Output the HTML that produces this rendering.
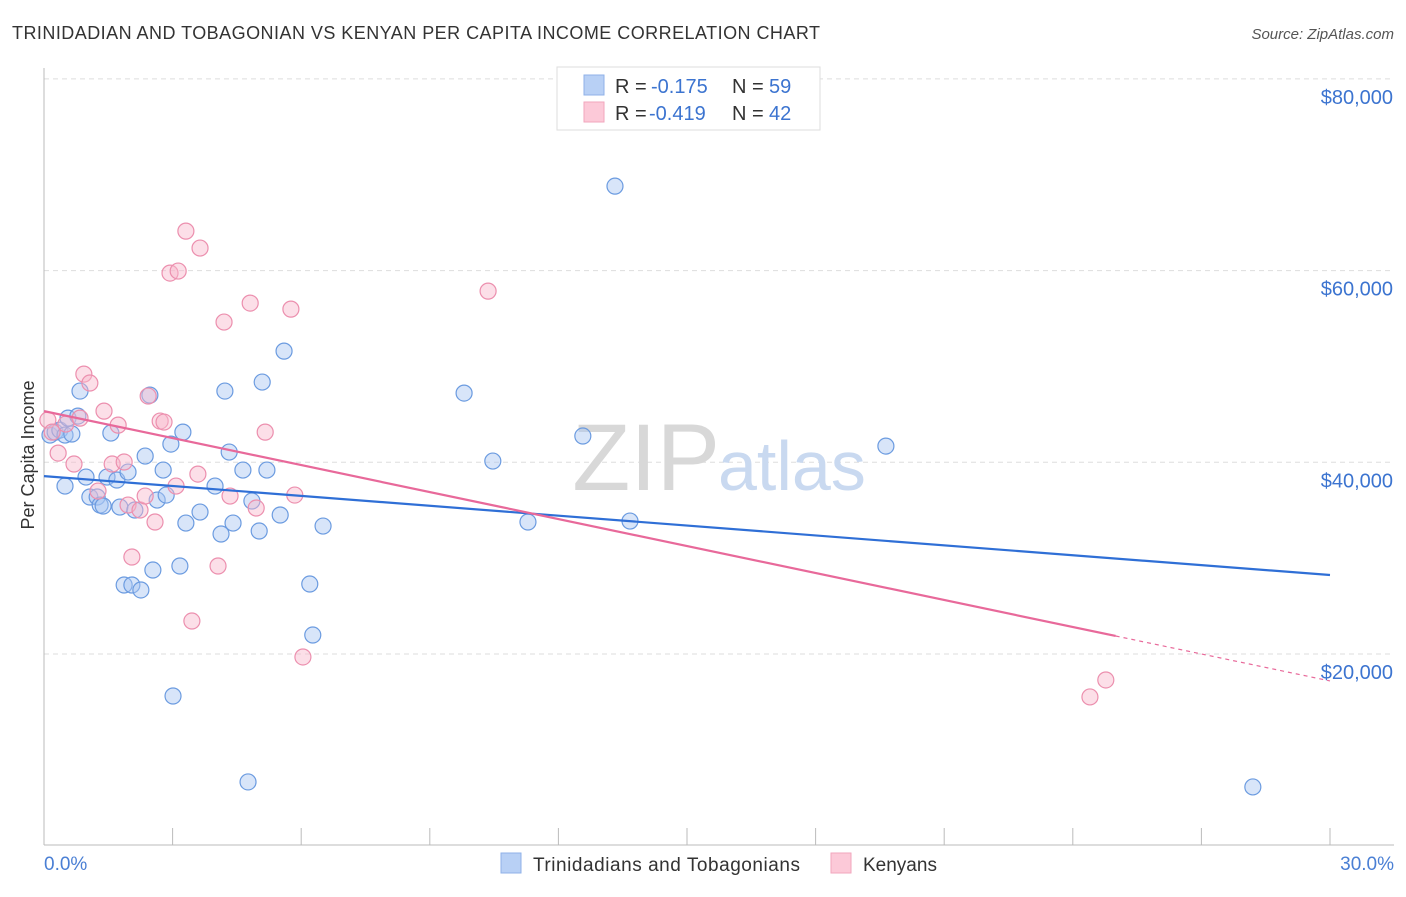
<!DOCTYPE html>
<html><head><meta charset="utf-8"><style>
body{margin:0;background:#fff;font-family:"Liberation Sans",sans-serif;}
svg text{font-family:"Liberation Sans",sans-serif;}
</style></head><body>
<svg width="1406" height="892" viewBox="0 0 1406 892">
<text x="12" y="39" font-size="18" fill="#333" textLength="808" lengthAdjust="spacing">TRINIDADIAN AND TOBAGONIAN VS KENYAN PER CAPITA INCOME CORRELATION CHART</text>
<text x="1394" y="39" font-size="15" fill="#555" font-style="italic" text-anchor="end">Source: ZipAtlas.com</text>
<g id="grid"></g>
<text x="720" y="490" font-size="95" fill="#d8d8d8" text-anchor="end" font-family="Liberation Serif">ZIP</text>
<text x="718" y="490" font-size="70" fill="#c9d9f0">atlas</text>
<g id="marks"></g>
<text transform="translate(34,455) rotate(-90)" font-size="18" fill="#333" text-anchor="middle">Per Capita Income</text>
<text x="44" y="870" font-size="19" fill="#4a7fd4">0.0%</text>
<text x="1394" y="870" font-size="19" fill="#4a7fd4" text-anchor="end">30.0%</text>
<g>
<rect x="557" y="67" width="263" height="63" fill="#fff" stroke="#ddd"/>
<rect x="584" y="75" width="20" height="20" fill="#b8d0f5" stroke="#8fb1e8"/>
<text x="615" y="93" font-size="20" fill="#333">R =</text>
<text x="651" y="93" font-size="20" fill="#3c74d0">-0.175</text>
<text x="732" y="93" font-size="20" fill="#333">N =</text>
<text x="769" y="93" font-size="20" fill="#3c74d0">59</text>
<rect x="584" y="102" width="20" height="20" fill="#fcc9d8" stroke="#f2a6bd"/>
<text x="615" y="120" font-size="20" fill="#333">R =</text>
<text x="649" y="120" font-size="20" fill="#3c74d0">-0.419</text>
<text x="732" y="120" font-size="20" fill="#333">N =</text>
<text x="769" y="120" font-size="20" fill="#3c74d0">42</text>
</g>
<g>
<rect x="501" y="853" width="20" height="20" fill="#b8d0f5" stroke="#8fb1e8"/>
<text x="533" y="871" font-size="19" fill="#333" textLength="267" lengthAdjust="spacing">Trinidadians and Tobagonians</text>
<rect x="831" y="853" width="20" height="20" fill="#fcc9d8" stroke="#f2a6bd"/>
<text x="863" y="871" font-size="19" fill="#333">Kenyans</text>
</g>
</svg>
<script>
const yTicks=[20000,40000,60000,80000];
const yTickLabels=["$20,000","$40,000","$60,000","$80,000"];
const xTicks=[0,3,6,9,12,15,18,21,24,27,30];
const blueX=[0.14,0.26,0.37,0.49,0.65,0.56,0.84,0.79,0.49,0.98,1.07,1.24,1.31,1.38,1.56,1.47,1.70,1.77,1.96,1.87,2.05,2.26,2.12,2.36,2.47,2.54,2.64,2.78,2.85,2.96,3.17,3.24,3.01,3.31,3.64,3.99,4.13,4.22,4.32,4.41,4.64,4.76,4.85,5.02,5.09,5.20,5.51,5.60,6.20,6.27,6.51,9.80,10.47,11.29,12.57,13.32,13.67,19.64,28.20];
const blueY=[42840,43150,43360,42840,42950,44610,47430,44820,37520,38460,36380,36380,35540,35440,43050,38460,38150,35330,38980,27200,27200,26680,35020,40650,47010,28760,36060,39190,36580,41900,29180,43150,15620,33660,34810,37520,32520,47430,41070,33660,39190,6650,35960,32830,48370,39190,34500,51600,27300,21980,33350,47220,40130,33770,42740,68810,33870,41690,6130];
const pinkX=[0.09,0.19,0.33,0.51,0.70,0.84,0.93,1.07,1.26,1.40,1.59,1.73,1.87,1.96,2.05,2.24,2.36,2.43,2.59,2.71,2.80,2.94,3.13,3.08,3.31,3.59,3.64,4.06,3.45,4.20,4.34,4.81,4.95,5.16,5.76,5.85,6.04,10.36,24.40,24.77];
const pinkY=[44410,43150,40960,43990,39820,44610,49200,48270,37000,45340,39820,43880,40030,35540,30120,35020,36480,46910,33770,44300,44200,59740,59950,37520,64120,38770,62350,29180,23440,54630,36480,56610,35230,43150,55980,36580,19690,57860,15520,17290];
const blueTrend=[38560,28240];
const pinkTrend=[45340,21880,17190];
const X=v=>44+v*(1286/30);
const Y=v=>654-(v-20000)*191.7/20000;
const NS="http://www.w3.org/2000/svg";
function mk(t,a,p){const e=document.createElementNS(NS,t);for(const k in a)e.setAttribute(k,a[k]);p.appendChild(e);return e;}
const g=document.getElementById('grid');
yTicks.forEach((v,i)=>{
 const l=mk('line',{x1:44,x2:1394,y1:Y(v),y2:Y(v),stroke:'#ddd','stroke-dasharray':'5,4'},g);
 
 
 const t=mk('text',{x:1393,y:Y(v)+25,'font-size':20,fill:'#3c74d0','text-anchor':'end'},g);
 t.textContent=yTickLabels[i];
 
 
});
const ax=mk('line',{x1:44,x2:1394,y1:845,y2:845,stroke:'#bbb'},g);


const ay=mk('line',{x1:44,x2:44,y1:68,y2:845,stroke:'#bbb'},g);


xTicks.forEach(v=>{
 const l=mk('line',{x1:X(v),x2:X(v),y1:828,y2:845,stroke:'#bbb'},g);
 
 
});
const m=document.getElementById('marks');
function pts(xs,ys,fill,stroke,name){
 xs.forEach((x,i)=>{
  const c=mk('circle',{cx:X(x),cy:Y(ys[i]),r:8,fill:fill,'fill-opacity':0.45,stroke:stroke,'stroke-width':1.2},m);
  
  
 });
}
pts(blueX,blueY,'#a9c6f2','#6b9be0','point-trinidad');
pts(pinkX,pinkY,'#f8b9cc','#ec8fae','point-kenyan');
const bl=mk('line',{x1:X(0),y1:Y(blueTrend[0]),x2:X(30),y2:Y(blueTrend[1]),stroke:'#2f6fd6','stroke-width':2.2},m);


const pl=mk('line',{x1:X(0),y1:Y(pinkTrend[0]),x2:X(25),y2:Y(pinkTrend[1]),stroke:'#e8699a','stroke-width':2.2},m);


const pd=mk('line',{x1:X(25),y1:Y(pinkTrend[1]),x2:X(30),y2:Y(pinkTrend[2]),stroke:'#e8699a','stroke-width':1.2,'stroke-dasharray':'4,4'},m);


</script>
</body></html>
